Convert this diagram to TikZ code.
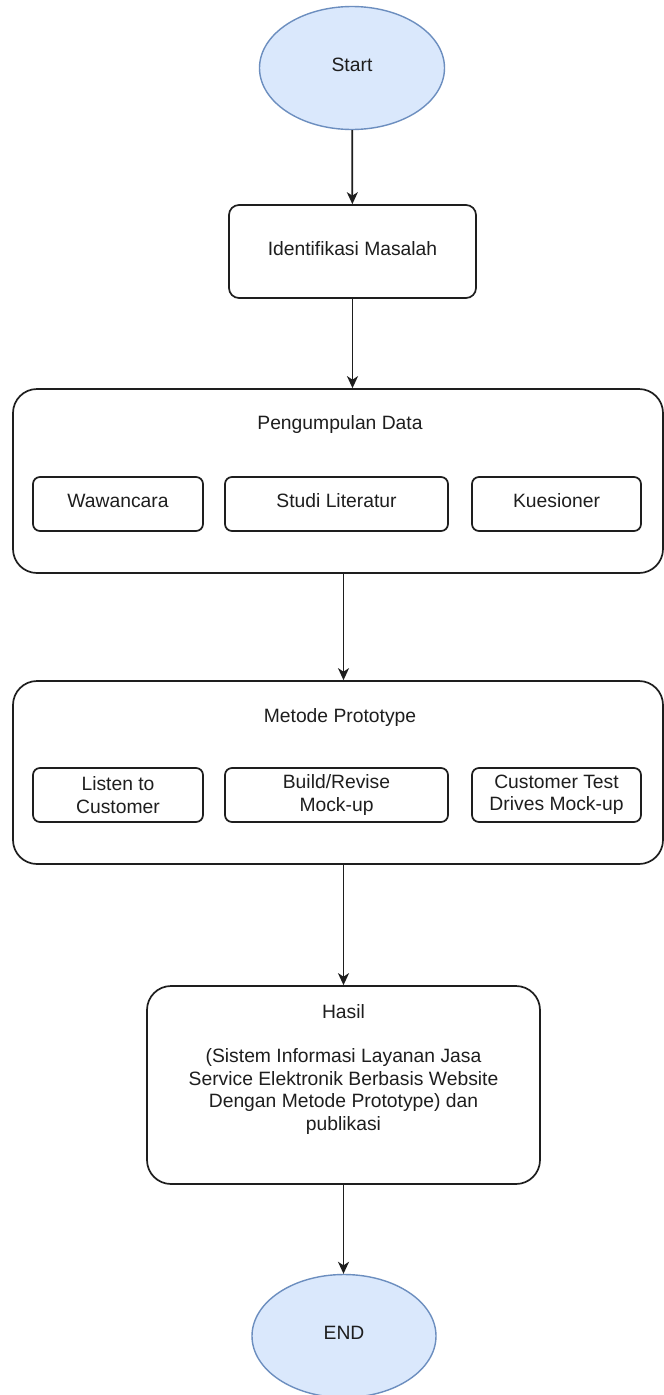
\documentclass[tikz,border=0pt]{standalone}
\usepackage{fontspec}
\setmainfont{Liberation Sans}
\usetikzlibrary{shapes.geometric,arrows.meta,calc}
\definecolor{ellfill}{HTML}{DAE8FC}
\definecolor{ellline}{HTML}{6C8EBF}
\definecolor{ink}{HTML}{1E1E1E}
\begin{document}
\begin{tikzpicture}[x=1pt,y=-1pt,
  every node/.style={font=\fontsize{19.3}{22.4}\selectfont, text=ink},
  one/.style={text height=0.72em, text depth=0pt},
  term/.style={ellipse, draw=ellline, fill=ellfill, line width=1.4pt, inner sep=0pt,
    minimum width=185pt, minimum height=123pt, one},
  box/.style={rectangle, rounded corners=10pt, draw=ink, line width=1.7pt, fill=white, inner sep=0pt},
  group/.style={box, rounded corners=24pt},
  sub/.style={box, rounded corners=7pt, minimum height=54pt, align=center},
  arr/.style={draw=ink, line width=1.7pt, -{Stealth[length=12pt,width=11pt,inset=3.5pt]}}
]
\useasboundingbox (0,0) rectangle (664,1395);
\fill[white] (0,0) rectangle (664,1395);

\node[term] (start) at (352,68) {Start};
\node[box, one, minimum width=247pt, minimum height=93pt] (ident) at (352.5,251.5) {Identifikasi Masalah};

\node[group, minimum width=650pt, minimum height=184pt] (peng) at (338,481) {};
\node[one] (pengT) at (340,426) {Pengumpulan Data};
\node[sub, one, minimum width=170pt] (waw) at (118,504) {Wawancara};
\node[sub, one, minimum width=223pt] (studi) at (336.5,504) {Studi Literatur};
\node[sub, one, minimum width=169pt] (kues) at (556.5,504) {Kuesioner};

\node[group, minimum width=650pt, minimum height=183pt] (met) at (338,772.5) {};
\node[one] (metT) at (340,719) {Metode Prototype};
\node[sub, minimum width=170pt] (listen) at (118,795) {Listen to\\Customer};
\node[sub, minimum width=223pt] (build) at (336.5,795) {Build/Revise\\Mock-up};
\node[sub, minimum width=169pt] (cust) at (556.5,795) {Customer Test\\Drives Mock-up};

\node[group, minimum width=393pt, minimum height=198pt] (hasil) at (343.5,1085) {};
\node[align=center] (hasilT) at (343.5,1069) {Hasil\\[22.4pt](Sistem Informasi Layanan Jasa\\Service Elektronik Berbasis Website\\Dengan Metode Prototype) dan\\publikasi};

\node[term, minimum width=184pt] (end) at (344,1336) {END};

\draw[arr] (start) -- (ident);
\draw[arr] (ident.south) -- (ident.south |- peng.north);
\draw[arr] (peng.south -| hasil.north) -- (met.north -| hasil.north);
\draw[arr] (met.south -| hasil.north) -- (hasil.north);
\draw[arr] (hasil.south) -- (hasil.south |- end.north);
\end{tikzpicture}
\end{document}
